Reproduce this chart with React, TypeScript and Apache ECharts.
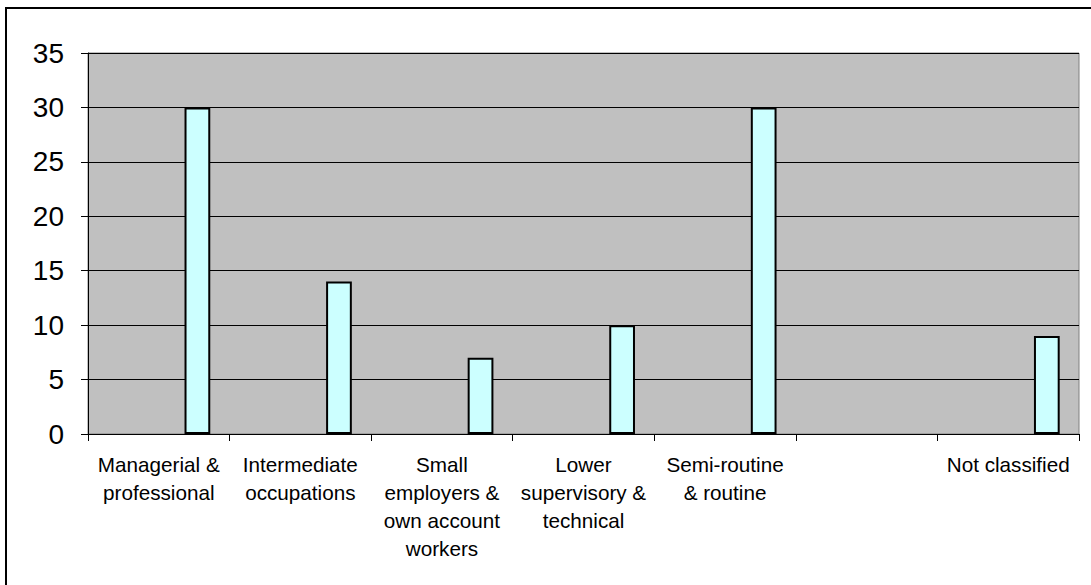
import React, { useEffect, useRef } from "react";
import * as echarts from "echarts";

const categories = [
  "Managerial &\nprofessional",
  "Intermediate\noccupations",
  "Small\nemployers &\nown account\nworkers",
  "Lower\nsupervisory &\ntechnical",
  "Semi-routine\n& routine",
  "",
  "Not classified",
];
const values: (number | null)[] = [30, 14, 7, 10, 30, null, 9];
const emptySeries: (number | null)[] = [null, null, null, null, null, null, null];
const yTicks = { min: 0, max: 35, interval: 5 };

export default function App() {
  const ref = useRef<HTMLDivElement>(null);
  useEffect(() => {
    if (!ref.current) return;
    const chart = echarts.init(ref.current, undefined, { renderer: "svg" });
    const barStyle = { color: "#CCFFFF", borderColor: "#000", borderWidth: 2 };
    const mk = (name: string, data: (number | null)[]) => ({
      name,
      type: "bar",
      data,
      barGap: "0%",
      barCategoryGap: "27.27%",
      itemStyle: barStyle,
      silent: true,
    });
    chart.setOption({
      animation: false,
      backgroundColor: "#fff",
      textStyle: { fontFamily: "Liberation Sans, Arial, sans-serif" },
      graphic: [
        {
          type: "rect",
          shape: { x: 6, y: 8, width: 1200, height: 700 },
          style: { fill: "none", stroke: "#000", lineWidth: 2 },
          z: -1,
        },
      ],
      grid: {
        left: 88,
        top: 53,
        right: 12,
        bottom: 151,
        show: true,
        backgroundColor: "#C0C0C0",
        borderColor: "#808080",
        borderWidth: 1,
      },
      xAxis: {
        type: "category",
        data: categories,
        boundaryGap: true,
        axisLine: { lineStyle: { color: "#000", width: 1 } },
        axisTick: { show: true, length: 7, lineStyle: { color: "#000" } },
        axisLabel: {
          interval: 0,
          color: "#000",
          fontSize: 20.7,
          lineHeight: 28,
          margin: 16,
          fontFamily: "Liberation Sans, Arial, sans-serif",
        },
        splitLine: { show: false },
      },
      yAxis: {
        type: "value",
        min: yTicks.min,
        max: yTicks.max,
        interval: yTicks.interval,
        axisLine: { show: true, lineStyle: { color: "#000", width: 1 } },
        axisTick: { show: true, length: 7, lineStyle: { color: "#000" } },
        axisLabel: {
          color: "#000",
          fontSize: 28,
          margin: 24,
          fontFamily: "Liberation Sans, Arial, sans-serif",
        },
        splitLine: { show: true, lineStyle: { color: "#000", width: 1 } },
      },
      series: [
        mk("s1", emptySeries),
        mk("s2", emptySeries),
        mk("s3", emptySeries),
        mk("Count", values),
      ],
    });
    return () => chart.dispose();
  }, []);
  return (
    <div
      ref={ref}
      style={{ position: "fixed", left: 0, top: 0, width: 1091, height: 585 }}
    />
  );
}
